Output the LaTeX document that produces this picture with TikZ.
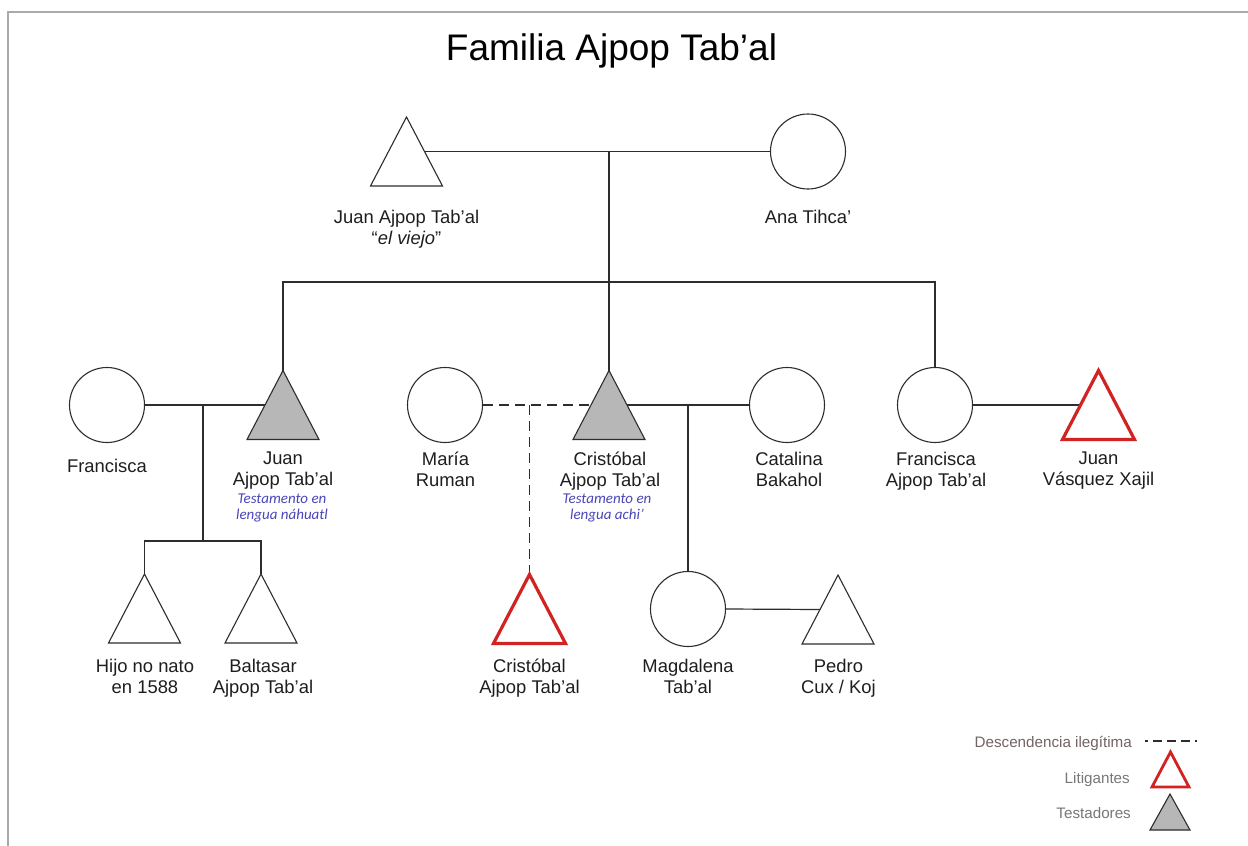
\documentclass[tikz,border=0pt]{standalone}
\usepackage{fontspec}
\setmainfont{Liberation Sans}
\newfontfamily\blufont{Carlito}
\usetikzlibrary{calc}
\definecolor{ln}{RGB}{45,45,45}
\definecolor{tx}{RGB}{30,30,30}
\definecolor{gfill}{RGB}{183,183,183}
\definecolor{redl}{RGB}{210,35,35}
\definecolor{blu}{RGB}{75,70,185}
\definecolor{framec}{RGB}{170,170,170}
\definecolor{legtx}{RGB}{115,100,100}
\definecolor{legtxb}{RGB}{120,120,120}
\begin{document}
\begin{tikzpicture}[x=1pt,y=-1pt,
  person/.style={circle, draw=ln, line width=1.1pt, minimum size=75pt, inner sep=0pt},
  tri/.style={rectangle, minimum width=72pt, minimum height=69pt, inner sep=0pt, outer sep=0pt},
  conn/.style={draw=ln, line width=1.2pt},
  ilegit/.style={draw=ln, line width=1.2pt, dash pattern=on 10pt off 6pt},
  pname/.style={font=\fontsize{18.4}{20.5}\selectfont, text=tx, align=center, inner sep=0pt, anchor=north},
  pnote/.style={font=\blufont\itshape\fontsize{15}{15.5}\selectfont, text=blu, align=center, inner sep=0pt, anchor=north},
  legtext/.style={font=\fontsize{15.2}{16}\selectfont, inner sep=0pt, anchor=base east},
  plaintri/.style={draw=ln, line width=1.1pt, line join=miter},
  graytri/.style={draw=ln, fill=gfill, line width=1.1pt, line join=miter},
  redtri/.style={draw=redl, line width=3.2pt, line join=miter},
]
\useasboundingbox (0,0) rectangle (1248,846);
\fill[white] (0,0) rectangle (1248,846);
% frame
\draw[framec, line width=2pt] (7.5,846) -- (7.5,12) -- (1248,12);

% title
\node[font=\fontsize{37}{40}\selectfont, text=black, anchor=base, inner sep=0pt] (title) at (611.5,60) {Familia Ajpop Tab’al};

% generation 1
\node[tri] (viejo) at (406.5,151.5) {};
\node[person] (ana) at (808,151.5) {};
\node[pname] (viejoL) at (406.5,210) {Juan Ajpop Tab’al\\“\textit{el viejo}”};
\node[pname] (anaL) at (808,210) {Ana Tihca’};

% generation 2
\node[tri] (juan) at (283,405) {};
\node[tri] (cris) at (609,405) {};
\node[tri] (vasq) at (1098.5,405) {};
\node[person] (fran) at (107,405) {};
\node[person] (maria) at (445,405) {};
\node[person] (cata) at (787,405) {};
\node[person] (franAT) at (935,405) {};

\node[pname] (franL) at (107,459) {Francisca};
\node[pname] (juanL) at (283,452) {Juan\\Ajpop Tab’al};
\node[pnote] (juanN) at (282,494) {Testamento en\\lengua náhuatl};
\node[pname] (mariaL) at (445.5,452) {María\\Ruman};
\node[pname] (crisL) at (610,452) {Cristóbal\\Ajpop Tab’al};
\node[pnote] (crisN) at (607,494) {Testamento en\\lengua achi’};
\node[pname] (cataL) at (789,452) {Catalina\\Bakahol};
\node[pname] (franATL) at (936,452) {Francisca\\Ajpop Tab’al};
\node[pname] (vasqL) at (1098.5,452) {Juan\\Vásquez Xajil};

% generation 3
\node[tri] (hijo) at (144.5,608.5) {};
\node[tri] (balt) at (261,608.5) {};
\node[tri] (crisH) at (529.5,609) {};
\node[person] (magd) at (688,609) {};
\node[tri] (pedro) at (838,609.5) {};

\node[pname] (hijoL) at (145,659) {Hijo no nato\\en 1588};
\node[pname] (baltL) at (263,659) {Baltasar\\Ajpop Tab’al};
\node[pname] (crisHL) at (529.5,659) {Cristóbal\\Ajpop Tab’al};
\node[pname] (magdL) at (688,659) {Magdalena\\Tab’al};
\node[pname] (pedroL) at (838.5,659) {Pedro\\Cux / Koj};

% legend
\node[legtext, text=legtx] (lgD) at (1132,747) {Descendencia ilegítima};
\node[legtext, text=legtxb] (lgL) at (1130,783) {Litigantes};
\node[legtext, text=legtxb] (lgT) at (1131,818) {Testadores};
\node[tri, minimum width=37pt, minimum height=35pt] (legR) at (1170.5,769.5) {};
\node[tri, minimum width=40pt, minimum height=36pt] (legG) at (1170,812) {};
\coordinate (lg1) at (1145,741);
\coordinate (lg2) at (1197,741);
\draw[ilegit, dash pattern=on 9pt off 5pt, dash phase=6pt] (lg1) -- (lg2);

% connectors
\draw[conn] ($(viejo.north)!.5!(viejo.south east)$) -- (ana.west);
\coordinate (m1) at (cris.north |- ana.west);
\draw[conn] (m1) -- (cris.north);
\coordinate (sib) at (0,282);
\draw[conn] (juan.north) -- (juan.north |- sib) -- (franAT.north |- sib) -- (franAT.north);

\draw[conn] (fran.east) -- ($(juan.north)!.5!(juan.south west)$);
\coordinate (c1) at (203,405);
\coordinate (sib2) at (203,541);
\draw[conn] (c1) -- (sib2);
\draw[conn] (hijo.north) -- (hijo.north |- sib2) -- (balt.north |- sib2) -- (balt.north);

\draw[ilegit] (maria.east) -- ($(cris.north)!.5!(cris.south west)$);
\coordinate (c2) at (crisH.north |- maria.east);
\draw[ilegit] (c2) -- (crisH.north);

\draw[conn] ($(cris.north)!.5!(cris.south east)$) -- (cata.west);
\coordinate (c3) at (magd.north |- cata.west);
\draw[conn] (c3) -- (magd.north);

\draw[conn] (franAT.east) -- ($(vasq.north)!.5!(vasq.south west)$);
\draw[conn] (magd.east) -- ($(pedro.north)!.5!(pedro.south west)$);

% triangle shapes
\foreach \n in {viejo,hijo,balt,pedro}
  \draw[plaintri] (\n.north) -- (\n.south east) -- (\n.south west) -- cycle;
\foreach \n in {juan,cris,legG}
  \draw[graytri] (\n.north) -- (\n.south east) -- (\n.south west) -- cycle;
\foreach \n in {vasq,crisH}
  \draw[redtri] (\n.north) -- (\n.south east) -- (\n.south west) -- cycle;
\draw[redtri, line width=2.8pt] (legR.north) -- (legR.south east) -- (legR.south west) -- cycle;
\end{tikzpicture}
\end{document}
